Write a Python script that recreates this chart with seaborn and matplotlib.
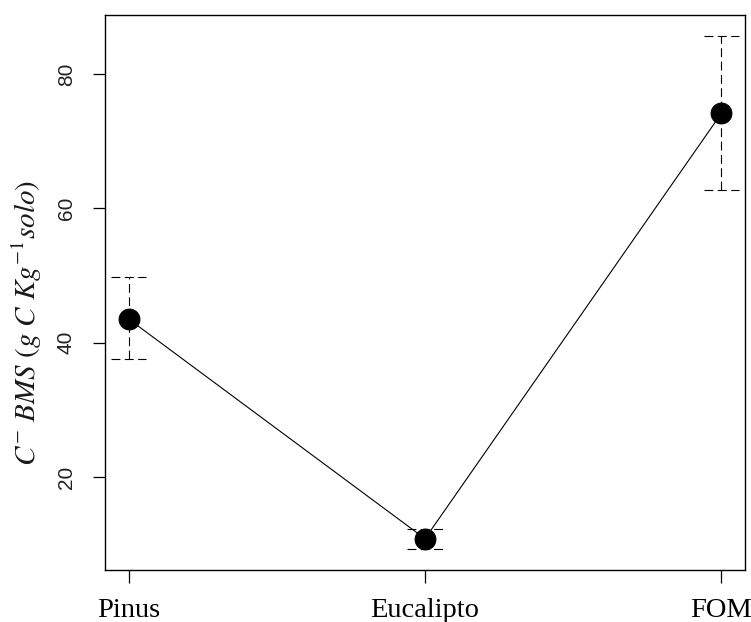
import matplotlib
matplotlib.use("Agg")
import matplotlib.pyplot as plt
import seaborn as sns
import numpy as np
import pandas as pd

categories = ["Pinus", "Eucalipto", "FOM"]
means = [43.5, 10.8, 74.1]
upper = [49.7, 12.2, 85.7]
lower = [37.5, 9.2, 62.7]
yticks = [20, 40, 60, 80]

sns.set_theme(style="white")
plt.rcParams["mathtext.fontset"] = "stix"

df = pd.DataFrame({"pos": np.arange(len(categories)), "cat": categories, "mean": means,
                   "lo": lower, "hi": upper})

fig = plt.figure(figsize=(7.51, 6.22), dpi=100)
ax = fig.add_axes([105/751, 1-570/622, 640/751, 555/622])

sns.lineplot(data=df, x="pos", y="mean", ax=ax, color="black", lw=0.8,
             marker="o", markersize=15, markeredgecolor="black",
             markerfacecolor="black", zorder=3)

dash = (0, (8, 4))
ax.vlines(df["pos"], df["lo"], df["hi"], colors="black", lw=0.8, linestyles=[dash], zorder=2)
cap = 0.06
ax.hlines(df["hi"], df["pos"] - cap, df["pos"] + cap, colors="black", lw=0.8, linestyles=[dash])
ax.hlines(df["lo"], df["pos"] - cap, df["pos"] + cap, colors="black", lw=0.8, linestyles=[dash])

n = len(categories)
span = (n - 1)
ax.set_xlim(-0.04 * span, (n - 1) + 0.04 * span)
ymin, ymax = min(lower), max(upper)
r = ymax - ymin
ax.set_ylim(ymin - 0.04 * r, ymax + 0.04 * r)

ax.set_xticks(df["pos"])
ax.set_xticklabels(categories, fontfamily="Liberation Serif", fontsize=20.5)
ax.set_yticks(yticks)
ax.set_yticklabels([str(v) for v in yticks], fontfamily="Liberation Sans", fontsize=15,
                   rotation=90, va="center")
ax.tick_params(axis="x", length=9, width=0.9, color="black", pad=11, direction="out",
               bottom=True, labelcolor="black")
ax.tick_params(axis="y", length=9, width=0.9, color="black", pad=12, direction="out",
               left=True, labelcolor="#222222")
for s in ax.spines.values():
    s.set_color("black")
    s.set_linewidth(1.0)
ax.set_xlabel("")
ax.set_ylabel("")

fig.text(27/751, 1-323/622, r"$C^{-}\ BMS\ (g\ C\ Kg^{-1}solo)$", rotation=90,
         ha="center", va="center", fontsize=21, color="#1a1a1a")

fig.savefig("out.png", dpi=100)
